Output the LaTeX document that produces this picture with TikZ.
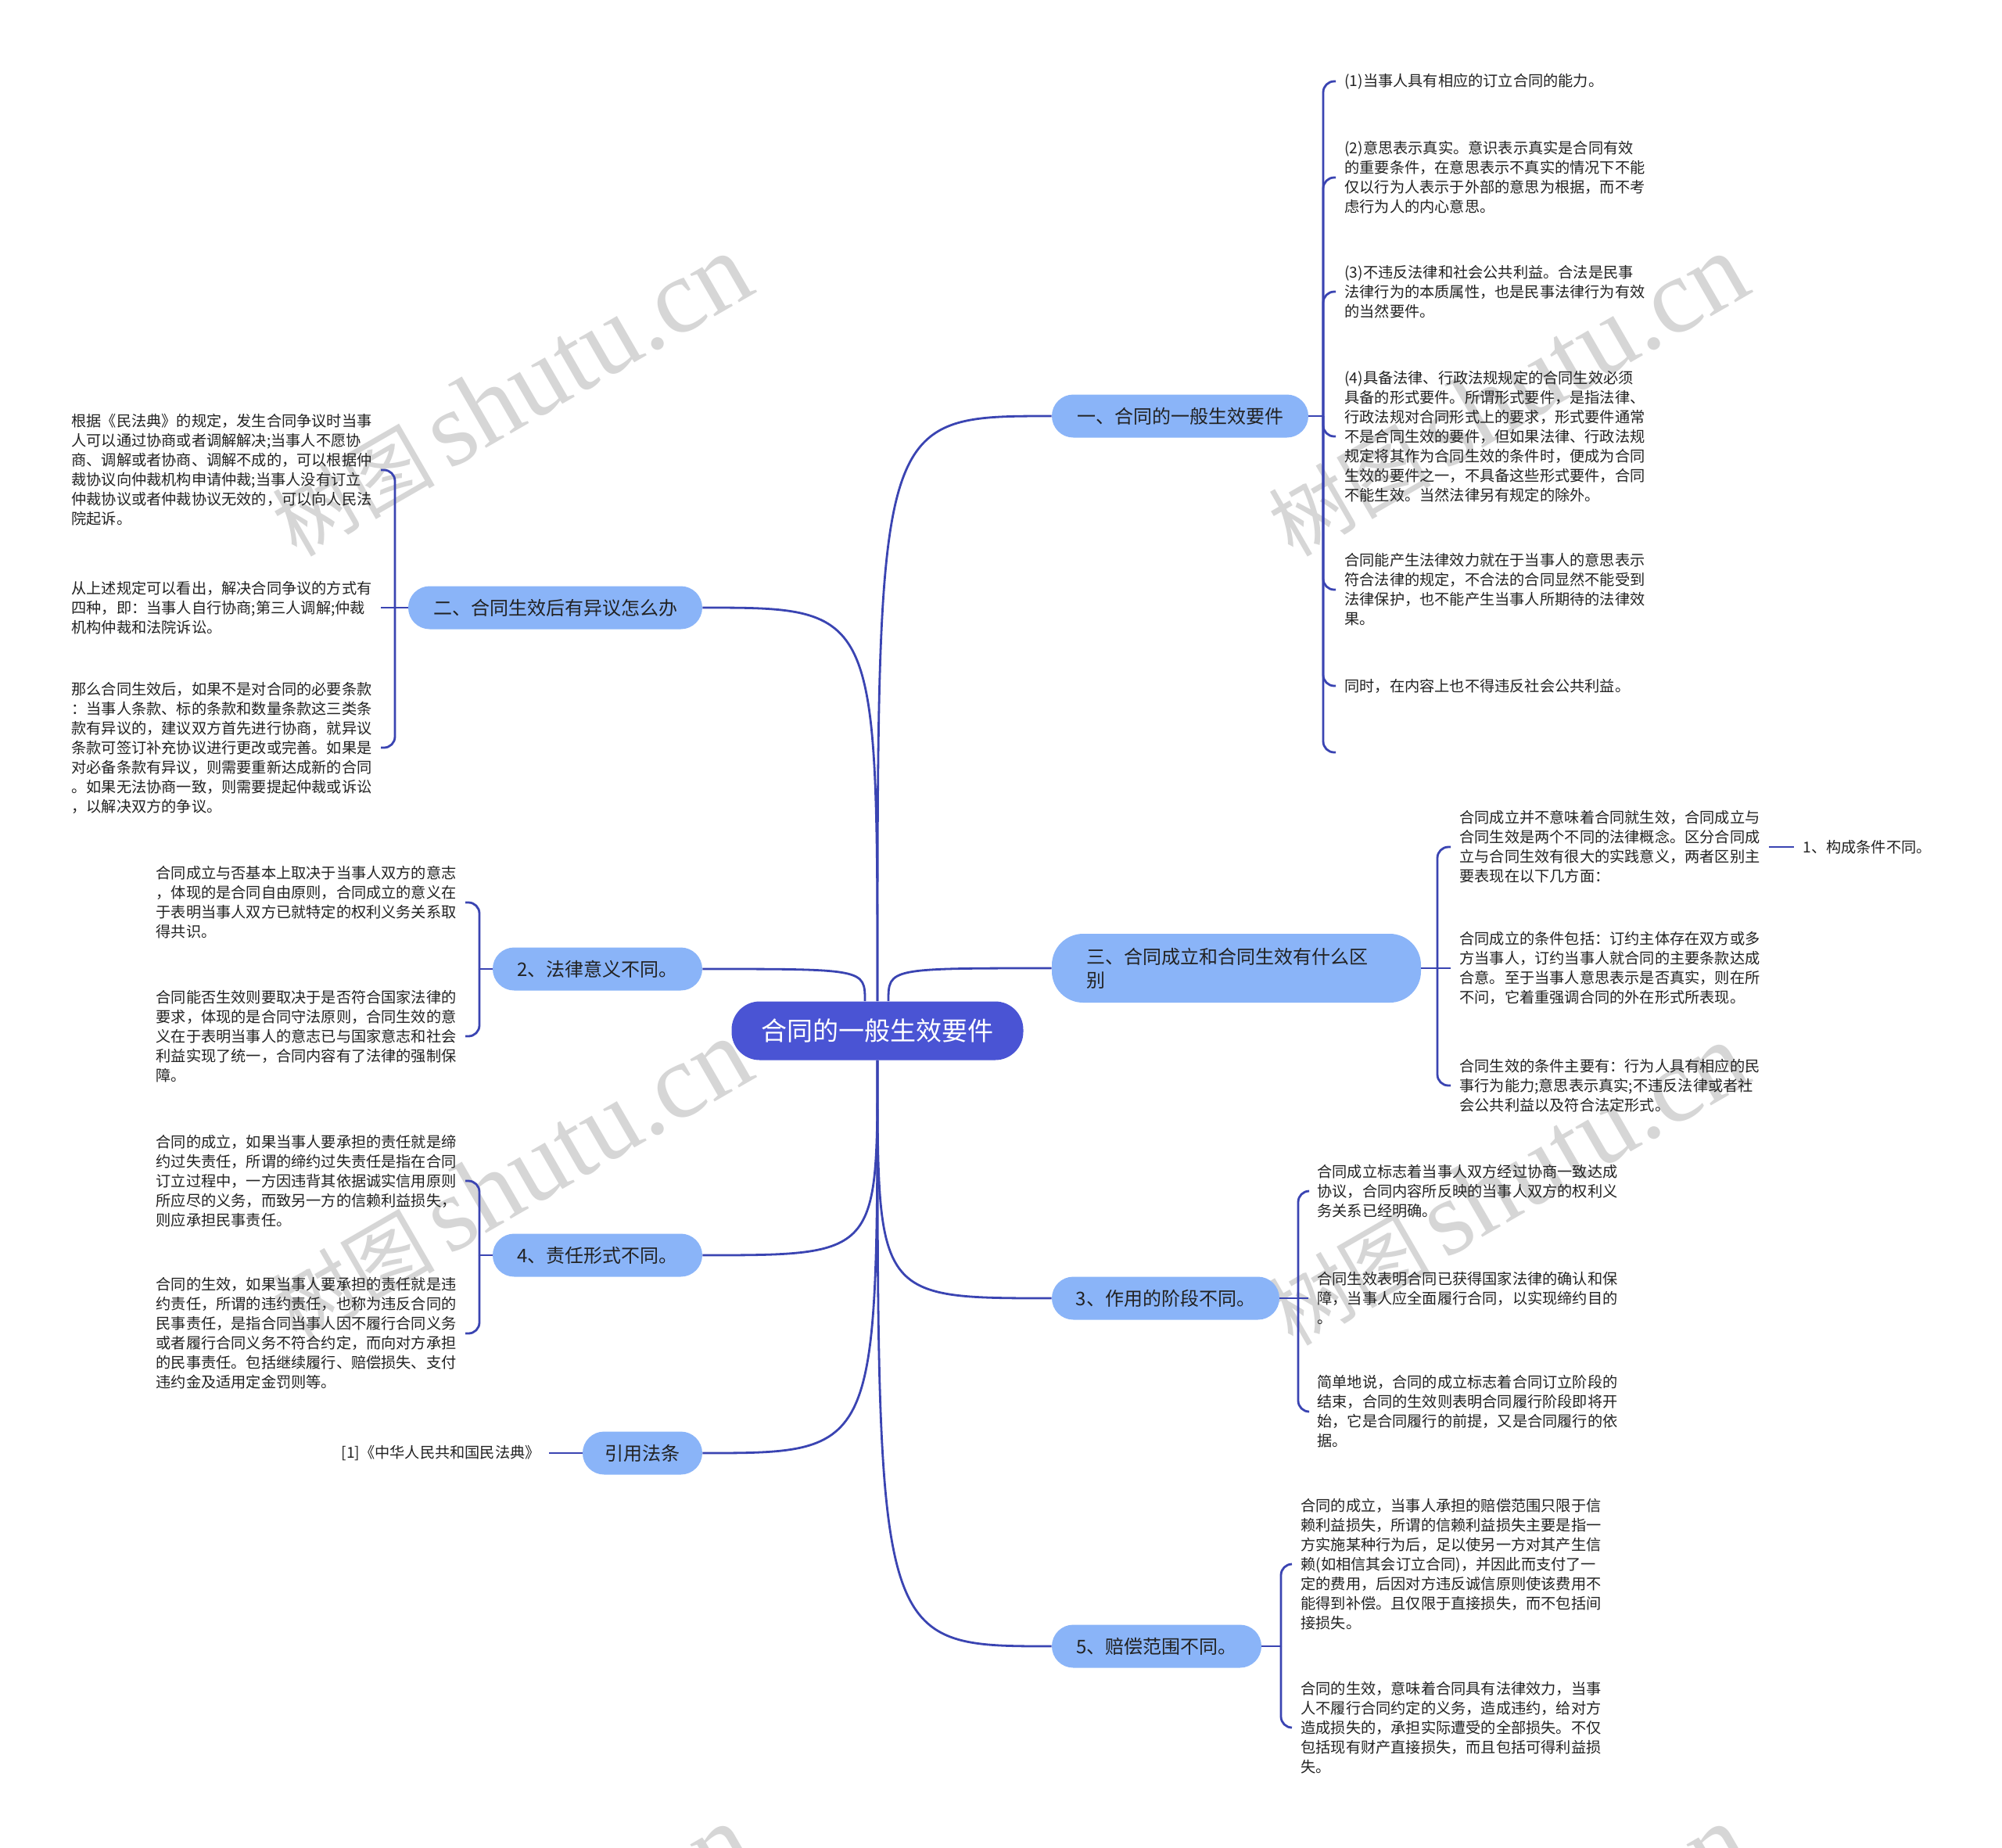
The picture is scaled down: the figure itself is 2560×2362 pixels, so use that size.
\documentclass[tikz,border=0pt]{standalone}
\usepackage{fontspec}
\setmainfont{Noto Sans CJK SC}
\newfontfamily\wmfont{Liberation Serif}
\definecolor{lineblue}{HTML}{3A44B2}
\definecolor{branchblue}{HTML}{8AB4F8}
\definecolor{rootblue}{HTML}{4A54D4}
\definecolor{txt}{HTML}{222222}
\definecolor{wmgray}{HTML}{D6D6D6}
\begin{document}
\begin{tikzpicture}[x=0.5pt,y=-0.5pt,
  conn/.style={draw=lineblue, line width=1.4pt},
  brace/.style={conn, rounded corners=7pt},
  root/.style={fill=rootblue, text=white, rounded corners=18pt, minimum height=37.5pt, minimum width=186.5pt, font=\fontsize{16.5pt}{20pt}\selectfont, inner sep=0pt},
  branch/.style={fill=branchblue, text=txt, rounded corners=13.75pt, minimum height=27.5pt, font=\fontsize{12pt}{15pt}\selectfont, inner sep=0pt},
  leafr/.style={anchor=west, align=left, text=txt, inner xsep=5.5pt, inner ysep=0pt, font=\fontsize{9.6pt}{12.5pt}\selectfont},
  leafl/.style={leafr, anchor=east},
  wm/.style={text=wmgray, rotate=30, inner sep=0pt}
]
\useasboundingbox (0,0) rectangle (2560,2362);
\fill[white] (0,0) rectangle (2560,2362);

% watermarks
\foreach \wx/\wy [count=\i] in {653/506, 1927/506, 653/1510, 1927/1515, 653/2514, 1927/2514}
  \node[wm] (wm\i) at (\wx,\wy) {\fontsize{52pt}{54pt}\selectfont 树图\,{\wmfont\fontsize{68pt}{70pt}\selectfont shutu.cn}};

% root and branches
\node[root] (c) at (1122,1318) {合同的一般生效要件};
\node[branch, minimum width=164pt] (b1) at (1509,532) {一、合同的一般生效要件};
\node[branch, minimum width=188pt] (b2) at (710,777) {二、合同生效后有异议怎么办};
\node[branch, minimum height=44pt, rounded corners=20pt, text width=192pt, inner xsep=22pt, align=left] (b3) at (1581,1238) {三、合同成立和合同生效有什么区\\别};
\node[branch, minimum width=134pt] (b4) at (764,1239) {2、法律意义不同。};
\node[branch, minimum width=134pt] (b5) at (764,1605) {4、责任形式不同。};
\node[branch, minimum width=145.5pt] (b6) at (1490.5,1660) {3、作用的阶段不同。};
\node[branch, minimum width=76.5pt] (b7) at (821.5,1858) {引用法条};
\node[branch, minimum width=134pt] (b8) at (1479,2105) {5、赔偿范围不同。};

% group 1
\node[leafr] (l1a) at (1708,104) {(1)当事人具有相应的订立合同的能力。};
\node[leafr] (l1b) at (1708,227) {(2)意思表示真实。意识表示真实是合同有效\\的重要条件，在意思表示不真实的情况下不能\\仅以行为人表示于外部的意思为根据，而不考\\虑行为人的内心意思。};
\node[leafr] (l1c) at (1708,373) {(3)不违反法律和社会公共利益。合法是民事\\法律行为的本质属性，也是民事法律行为有效\\的当然要件。};
\node[leafr] (l1d) at (1708,558) {(4)具备法律、行政法规规定的合同生效必须\\具备的形式要件。所谓形式要件，是指法律、\\行政法规对合同形式上的要求，形式要件通常\\不是合同生效的要件，但如果法律、行政法规\\规定将其作为合同生效的条件时，便成为合同\\生效的要件之一，不具备这些形式要件，合同\\不能生效。当然法律另有规定的除外。};
\node[leafr] (l1e) at (1708,754) {合同能产生法律效力就在于当事人的意思表示\\符合法律的规定，不合法的合同显然不能受到\\法律保护，也不能产生当事人所期待的法律效\\果。};
\node[leafr] (l1f) at (1708,877) {同时，在内容上也不得违反社会公共利益。};
\coordinate (l1g) at (1708,962);
\coordinate (j1) at (1692,532);

% group 2
\node[leafl] (l2a) at (487,601) {根据《民法典》的规定，发生合同争议时当事\\人可以通过协商或者调解解决;当事人不愿协\\商、调解或者协商、调解不成的，可以根据仲\\裁协议向仲裁机构申请仲裁;当事人没有订立\\仲裁协议或者仲裁协议无效的，可以向人民法\\院起诉。};
\node[leafl] (l2b) at (487,777) {从上述规定可以看出，解决合同争议的方式有\\四种，即：当事人自行协商;第三人调解;仲裁\\机构仲裁和法院诉讼。};
\node[leafl] (l2c) at (487,956) {那么合同生效后，如果不是对合同的必要条款\\：当事人条款、标的条款和数量条款这三类条\\款有异议的，建议双方首先进行协商，就异议\\条款可签订补充协议进行更改或完善。如果是\\对必备条款有异议，则需要重新达成新的合同\\。如果无法协商一致，则需要提起仲裁或诉讼\\，以解决双方的争议。};
\coordinate (j2) at (505,777);

% group 3 (三)
\node[leafr] (l3a) at (1855,1083) {合同成立并不意味着合同就生效，合同成立与\\合同生效是两个不同的法律概念。区分合同成\\立与合同生效有很大的实践意义，两者区别主\\要表现在以下几方面：};
\node[leafr] (l3b) at (1855,1238) {合同成立的条件包括：订约主体存在双方或多\\方当事人，订约当事人就合同的主要条款达成\\合意。至于当事人意思表示是否真实，则在所\\不问，它着重强调合同的外在形式所表现。};
\node[leafr] (l3c) at (1855,1388) {合同生效的条件主要有：行为人具有相应的民\\事行为能力;意思表示真实;不违反法律或者社\\会公共利益以及符合法定形式。};
\node[leafr] (l3d) at (2294,1083) {1、构成条件不同。};
\coordinate (j3) at (1838,1238);

% group 4 (2、)
\node[leafl] (l4a) at (595,1154) {合同成立与否基本上取决于当事人双方的意志\\，体现的是合同自由原则，合同成立的意义在\\于表明当事人双方已就特定的权利义务关系取\\得共识。};
\node[leafl] (l4b) at (595,1325) {合同能否生效则要取决于是否符合国家法律的\\要求，体现的是合同守法原则，合同生效的意\\义在于表明当事人的意志已与国家意志和社会\\利益实现了统一，合同内容有了法律的强制保\\障。};
\coordinate (j4) at (613,1239);

% group 5 (4、)
\node[leafl] (l5a) at (595,1510) {合同的成立，如果当事人要承担的责任就是缔\\约过失责任，所谓的缔约过失责任是指在合同\\订立过程中，一方因违背其依据诚实信用原则\\所应尽的义务，而致另一方的信赖利益损失，\\则应承担民事责任。};
\node[leafl] (l5b) at (595,1705) {合同的生效，如果当事人要承担的责任就是违\\约责任，所谓的违约责任，也称为违反合同的\\民事责任，是指合同当事人因不履行合同义务\\或者履行合同义务不符合约定，而向对方承担\\的民事责任。包括继续履行、赔偿损失、支付\\违约金及适用定金罚则等。};
\coordinate (j5) at (613,1605);

% group 6 (3、)
\node[leafr] (l6a) at (1673,1523) {合同成立标志着当事人双方经过协商一致达成\\协议，合同内容所反映的当事人双方的权利义\\务关系已经明确。};
\node[leafr] (l6b) at (1673,1660) {合同生效表明合同已获得国家法律的确认和保\\障，当事人应全面履行合同，以实现缔约目的\\。};
\node[leafr] (l6c) at (1673,1805) {简单地说，合同的成立标志着合同订立阶段的\\结束，合同的生效则表明合同履行阶段即将开\\始，它是合同履行的前提，又是合同履行的依\\据。};
\coordinate (j6) at (1660,1660);

% group 7 (引用法条)
\node[leafl] (l7) at (702,1858) {[1]《中华人民共和国民法典》};

% group 8 (5、)
\node[leafr] (l8a) at (1652,2000) {合同的成立，当事人承担的赔偿范围只限于信\\赖利益损失，所谓的信赖利益损失主要是指一\\方实施某种行为后，足以使另一方对其产生信\\赖(如相信其会订立合同)，并因此而支付了一\\定的费用，后因对方违反诚信原则使该费用不\\能得到补偿。且仅限于直接损失，而不包括间\\接损失。};
\node[leafr] (l8b) at (1652,2209) {合同的生效，意味着合同具有法律效力，当事\\人不履行合同约定的义务，造成违约，给对方\\造成损失的，承担实际遭受的全部损失。不仅\\包括现有财产直接损失，而且包括可得利益损\\失。};
\coordinate (j8) at (1638,2105);

% root connectors
\coordinate (s3) at ([xshift=7pt]c.north);
\coordinate (s4) at ([xshift=-8pt]c.north);
\draw[conn] (c.north) .. controls (c.north |- b1.west) .. (b1.west);
\draw[conn] (c.north) .. controls (c.north |- b2.east) .. (b2.east);
\draw[conn] (s3) .. controls (s3 |- b3.west) .. (b3.west);
\draw[conn] (s4) .. controls (s4 |- b4.east) .. (b4.east);
\draw[conn] (c.south) .. controls (c.south |- b5.east) .. (b5.east);
\draw[conn] (c.south) .. controls (c.south |- b6.west) .. (b6.west);
\draw[conn] (c.south) .. controls (c.south |- b7.east) .. (b7.east);
\draw[conn] (c.south) .. controls (c.south |- b8.west) .. (b8.west);

% branch to leaves
\draw[conn] (b1.east) -- (j1);
\foreach \l in {l1a,l1b,l1c,l1d,l1e,l1f} \draw[brace] (j1) |- (\l.west);
\draw[brace] (j1) |- (l1g);

\draw[conn] (b2.west) -- (j2);
\foreach \l in {l2a,l2c} \draw[brace] (j2) |- (\l.east);
\draw[conn] (j2) -- (l2b.east);

\draw[conn] (b3.east) -- (j3);
\foreach \l in {l3a,l3c} \draw[brace] (j3) |- (\l.west);
\draw[conn] (j3) -- (l3b.west);
\draw[conn] (l3a.east) -- (l3d.west);

\draw[conn] (b4.west) -- (j4);
\foreach \l in {l4a,l4b} \draw[brace] (j4) |- (\l.east);

\draw[conn] (b5.west) -- (j5);
\foreach \l in {l5a,l5b} \draw[brace] (j5) |- (\l.east);

\draw[conn] (b6.east) -- (j6);
\foreach \l in {l6a,l6c} \draw[brace] (j6) |- (\l.west);
\draw[conn] (j6) -- (l6b.west);

\draw[conn] (b7.west) -- (l7.east);

\draw[conn] (b8.east) -- (j8);
\foreach \l in {l8a,l8b} \draw[brace] (j8) |- (\l.west);
\end{tikzpicture}
\end{document}
